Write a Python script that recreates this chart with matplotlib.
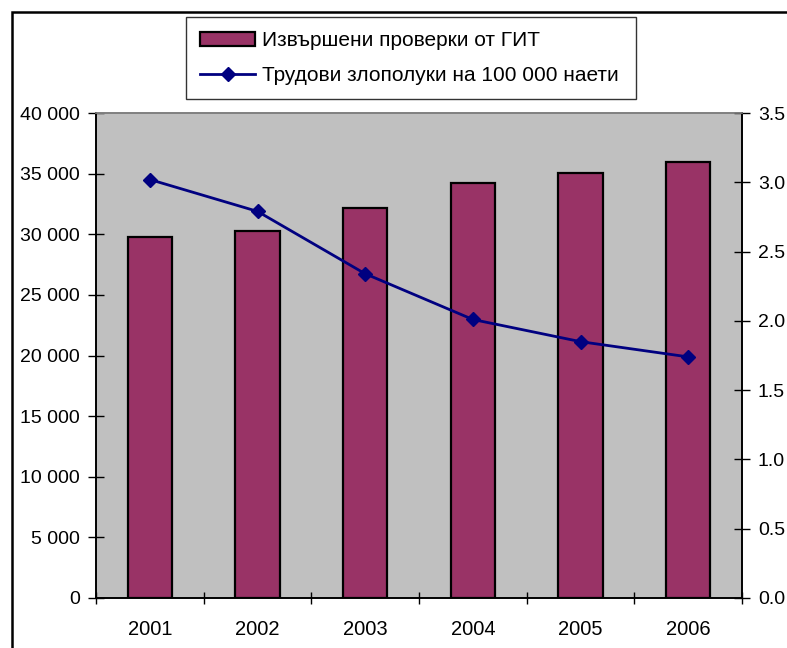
import numpy as np
import matplotlib.pyplot as plt
from matplotlib.patches import Rectangle
from matplotlib.ticker import FuncFormatter, MultipleLocator

plt.rcParams['font.family'] = ['Liberation Sans', 'DejaVu Sans']

years = ['2001', '2002', '2003', '2004', '2005', '2006']
inspections = [29750, 30240, 32190, 34200, 35030, 35990]
accidents = [3.02, 2.79, 2.34, 2.01, 1.85, 1.74]

label_bars = 'Извършени проверки от ГИТ'
label_line = 'Трудови злополуки на 100 000 наети'

W, H = 787, 648
fig = plt.figure(figsize=(W / 100, H / 100), dpi=100)
ax = fig.add_axes([96 / W, 1 - 598 / H, (742 - 96) / W, (598 - 113) / H])
ax2 = ax.twinx()

# outer chart border (only left and top edges fall inside the image)
fig.add_artist(Rectangle((11.5 / W, -0.1), 1.2, 1.1 - 11.8 / H, transform=fig.transFigure,
                         fill=False, edgecolor='black', linewidth=1.8, clip_on=False))

x = np.arange(len(years))
bars = ax.bar(x, inspections, width=0.41, color='#993366', edgecolor='black',
              linewidth=1.6, zorder=2, label=label_bars)
line, = ax2.plot(x, accidents, color='#000080', linewidth=2, marker='D',
                 markersize=7.4, label=label_line, zorder=3)

ax.set_facecolor('#C0C0C0')
ax.set_xlim(-0.5, len(years) - 0.5)
ax.set_ylim(0, 40000)
ax2.set_ylim(0, 3.5)

ax.yaxis.set_major_locator(MultipleLocator(5000))
ax.yaxis.set_major_formatter(FuncFormatter(lambda v, p: f'{int(v):,}'.replace(',', ' ')))
ax2.yaxis.set_major_locator(MultipleLocator(0.5))
ax2.yaxis.set_major_formatter(FuncFormatter(lambda v, p: f'{v:.1f}'))

ax.set_xticks(x)
ax.set_xticklabels(years)
ax.set_xticks(np.arange(-0.5, len(years)), minor=True)
ax.tick_params(axis='x', which='major', length=0, pad=16, labelsize=14.5)
ax.tick_params(axis='x', which='minor', direction='inout', length=9, width=1)
ax.tick_params(axis='y', direction='inout', length=11, width=1, pad=6, labelsize=14)
ax2.tick_params(axis='y', direction='inout', length=11, width=1, pad=6, labelsize=14)

for a in (ax, ax2):
    a.spines['top'].set_color('#808080')
    a.spines['top'].set_linewidth(1.2)
    for s in ('left', 'right', 'bottom'):
        a.spines[s].set_linewidth(1.2)
        a.spines[s].set_color('black')

leg = fig.legend([bars, line], [label_bars, label_line], loc='upper left',
                 bbox_to_anchor=(186 / W, 1 - 99 / H, 450 / W, 82 / H), mode='expand',
                 borderaxespad=0, fontsize=15, frameon=True, fancybox=False,
                 handlelength=2.65, handleheight=0.65, handletextpad=0.35,
                 labelspacing=0.78, borderpad=0.67)
leg.get_frame().set_edgecolor('black')
leg.get_frame().set_linewidth(1.0)

fig.savefig('out.png', dpi=100)
